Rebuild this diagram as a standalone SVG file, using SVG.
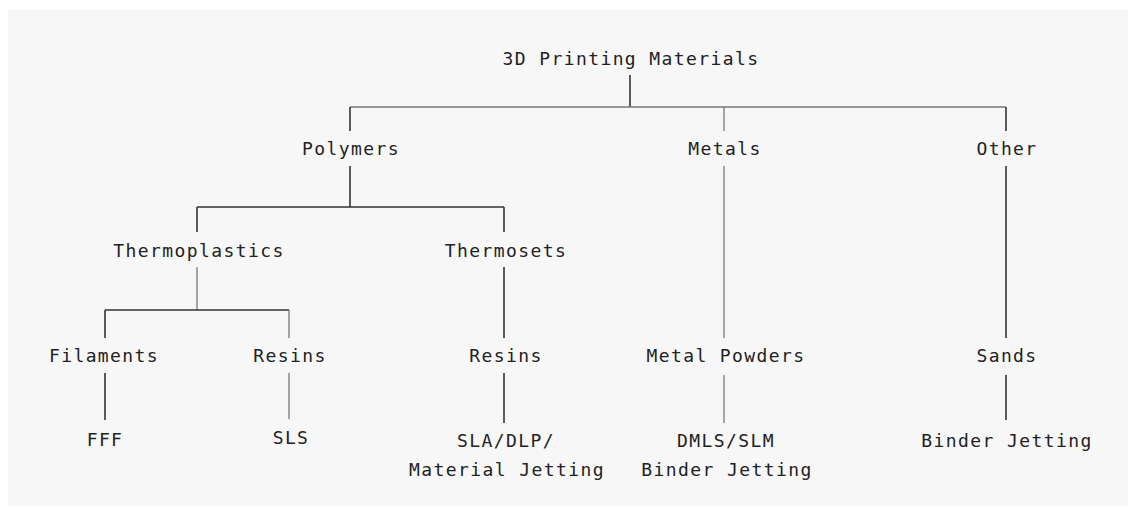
<svg xmlns="http://www.w3.org/2000/svg" width="1134" height="513" viewBox="0 0 1134 513">
<style>
.t{font-family:"DejaVu Sans Mono","Liberation Mono",monospace;font-size:18px;letter-spacing:1.4px;fill:#222;text-anchor:middle}
.c{stroke:#333;stroke-width:1.6;fill:none}
.g{stroke:#777;stroke-width:1.3;fill:none}
</style>
<rect x="0" y="0" width="1134" height="513" fill="#ffffff"/>
<rect x="8" y="10" width="1120" height="496" fill="#f7f7f7"/>
<g id="connectors">
<path class="c" d="M630 75V107"/>
<path class="g" d="M350 107H1006"/>
<path class="c" d="M350 107V131"/>
<path class="g" d="M724 107V131"/>
<path class="c" d="M1006 107V131"/>
<path class="c" d="M350 166V207"/>
<path class="c" d="M197 207H504"/>
<path class="c" d="M197 207V232"/>
<path class="c" d="M504 207V232"/>
<path class="g" d="M197 267V310"/>
<path class="c" d="M105 310H289"/>
<path class="c" d="M105 310V338"/>
<path class="g" d="M289 310V338"/>
<path class="c" d="M504 267V338"/>
<path class="g" d="M724 166V338"/>
<path class="c" d="M1006 166V338"/>
<path class="c" d="M105 373V420"/>
<path class="g" d="M289 373V419"/>
<path class="c" d="M504 373V423"/>
<path class="g" d="M724 375V423"/>
<path class="c" d="M1006 375V420"/>
</g>
<g id="root"><text class="t" x="631" y="65">3D Printing Materials</text></g>
<g id="polymers"><text class="t" x="351" y="155">Polymers</text></g>
<g id="metals"><text class="t" x="725" y="155">Metals</text></g>
<g id="other"><text class="t" x="1007" y="155">Other</text></g>
<g id="thermoplastics"><text class="t" x="199" y="257">Thermoplastics</text></g>
<g id="thermosets"><text class="t" x="506" y="257">Thermosets</text></g>
<g id="filaments"><text class="t" x="104" y="362">Filaments</text></g>
<g id="resins1"><text class="t" x="290" y="362">Resins</text></g>
<g id="resins2"><text class="t" x="506" y="362">Resins</text></g>
<g id="metalpowders"><text class="t" x="726" y="362">Metal Powders</text></g>
<g id="sands"><text class="t" x="1007" y="362">Sands</text></g>
<g id="fff"><text class="t" x="105" y="446">FFF</text></g>
<g id="sls"><text class="t" x="291" y="444">SLS</text></g>
<g id="sla"><text class="t" x="506" y="447">SLA/DLP/</text><text class="t" x="507" y="476">Material Jetting</text></g>
<g id="dmls"><text class="t" x="726" y="447">DMLS/SLM</text><text class="t" x="727" y="476">Binder Jetting</text></g>
<g id="binder"><text class="t" x="1007" y="447">Binder Jetting</text></g>
</svg>
